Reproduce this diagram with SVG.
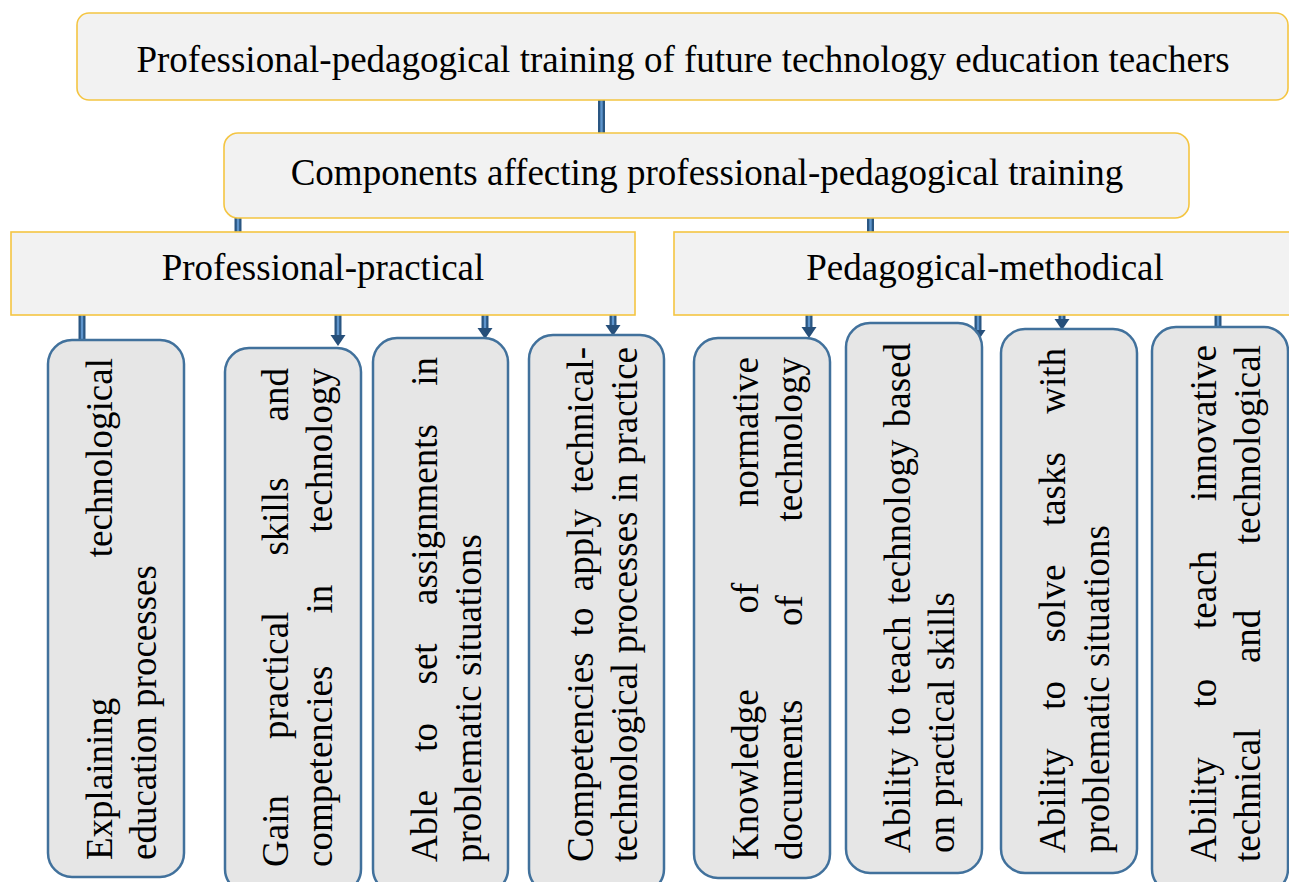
<svg xmlns="http://www.w3.org/2000/svg" width="1289" height="882" viewBox="0 0 1289 882">
<style>
.box{fill:#f2f2f2;stroke:#f4c542;stroke-width:1.6}
.vbox{fill:#e6e6e6;stroke:#41719c;stroke-width:2.5}
.co{stroke:#2a5682;stroke-width:7;fill:none}
.ci{stroke:#5f95cc;stroke-width:2.4;fill:none}
</style>
<defs>
<marker id="ah" viewBox="0 -8 11 16" refX="0" refY="0" markerWidth="11" markerHeight="16" markerUnits="userSpaceOnUse" orient="auto">
<path d="M0,-7.5 L11,0 L0,7.5 Z" fill="#264f7a"/>
</marker>
</defs>
<rect width="1289" height="882" fill="#fff"/>
<g id="connectors">
<path class="co" d="M601.5,100V133"/><path class="ci" d="M601.5,100V133"/>
<path class="co" d="M238,218V232"/><path class="ci" d="M238,218V232"/>
<path class="co" d="M870.5,218V232"/><path class="ci" d="M870.5,218V232"/>
<path class="co" d="M82,315V341"/><path class="ci" d="M82,315V341"/>
<path class="co" d="M338,315V335" marker-end="url(#ah)"/><path class="ci" d="M338,315V335"/>
<path class="co" d="M485,315V328" marker-end="url(#ah)"/><path class="ci" d="M485,315V328"/>
<path class="co" d="M613,315V325" marker-end="url(#ah)"/><path class="ci" d="M613,315V325"/>
<path class="co" d="M809,315V327" marker-end="url(#ah)"/><path class="ci" d="M809,315V327"/>
<path class="co" d="M978,315V330" marker-end="url(#ah)"/><path class="ci" d="M978,315V330"/>
<path class="co" d="M1062,315V319" marker-end="url(#ah)"/><path class="ci" d="M1062,315V319"/>
<path class="co" d="M1218,315V328"/><path class="ci" d="M1218,315V328"/>
</g>
<g font-family="Liberation Serif" font-size="37" fill="#000">
<g id="n-top">
<rect class="box" x="77" y="13" width="1211" height="87" rx="12"/>
<text x="683" y="72" text-anchor="middle">Professional-pedagogical training of future technology education teachers</text>
</g>
<g id="n-components">
<rect class="box" x="224" y="133" width="965" height="85" rx="14"/>
<text x="707" y="185" text-anchor="middle">Components affecting professional-pedagogical training</text>
</g>
<g id="n-practical">
<rect class="box" x="11" y="232" width="624" height="83"/>
<text x="323" y="280" text-anchor="middle">Professional-practical</text>
</g>
<g id="n-methodical">
<rect class="box" x="674" y="232" width="625" height="83"/>
<text x="985" y="280" text-anchor="middle">Pedagogical-methodical</text>
</g>
<g id="n1">
<rect class="vbox" x="48" y="340" width="136" height="537" rx="24"/>
<g transform="translate(112,860) rotate(-90)">
<text x="0" y="0">Explaining</text>
<text x="502" y="0" text-anchor="end">technological</text>
<text x="0" y="44">education processes</text>
</g>
</g>
<g id="n2">
<rect class="vbox" x="225" y="348" width="136" height="545" rx="24"/>
<g transform="translate(288,867) rotate(-90)">
<text x="0" y="0">Gain</text>
<text x="128" y="0">practical</text>
<text x="311.4" y="0">skills</text>
<text x="499" y="0" text-anchor="end">and</text>
<text x="0" y="44">competencies</text>
<text x="253.6" y="44">in</text>
<text x="499" y="44" text-anchor="end">technology</text>
</g>
</g>
<g id="n3">
<rect class="vbox" x="373" y="338" width="135" height="555" rx="24"/>
<g transform="translate(437,862) rotate(-90)">
<text x="0" y="0">Able</text>
<text x="110.3" y="0">to</text>
<text x="177.5" y="0">set</text>
<text x="257" y="0">assignments</text>
<text x="505" y="0" text-anchor="end">in</text>
<text x="0" y="44">problematic situations</text>
</g>
</g>
<g id="n4">
<rect class="vbox" x="529" y="335" width="135" height="558" rx="24"/>
<g transform="translate(593,862) rotate(-90)">
<text x="0" y="0">Competencies</text>
<text x="225.8" y="0">to</text>
<text x="270.8" y="0">apply</text>
<text x="515" y="0" text-anchor="end">technical-</text>
<text x="0" y="44">technological</text>
<text x="208.7" y="44">processes</text>
<text x="359.8" y="44">in</text>
<text x="515" y="44" text-anchor="end">practice</text>
</g>
</g>
<g id="n5">
<rect class="vbox" x="694" y="338" width="136" height="540" rx="24"/>
<g transform="translate(758,860) rotate(-90)">
<text x="0" y="0">Knowledge</text>
<text x="246.4" y="0">of</text>
<text x="503" y="0" text-anchor="end">normative</text>
<text x="0" y="44">documents</text>
<text x="234" y="44">of</text>
<text x="503" y="44" text-anchor="end">technology</text>
</g>
</g>
<g id="n6">
<rect class="vbox" x="846" y="323" width="136" height="550" rx="24"/>
<g transform="translate(910,853) rotate(-90)">
<text x="0" y="0">Ability</text>
<text x="117.3" y="0">to</text>
<text x="158.5" y="0">teach</text>
<text x="249" y="0">technology</text>
<text x="510" y="0" text-anchor="end">based</text>
<text x="0" y="44">on practical skills</text>
</g>
</g>
<g id="n7">
<rect class="vbox" x="1001" y="329" width="136" height="544" rx="24"/>
<g transform="translate(1065,853) rotate(-90)">
<text x="0" y="0">Ability</text>
<text x="143.3" y="0">to</text>
<text x="210.4" y="0">solve</text>
<text x="326.9" y="0">tasks</text>
<text x="505" y="0" text-anchor="end">with</text>
<text x="0" y="44">problematic situations</text>
</g>
</g>
<g id="n8">
<rect class="vbox" x="1152" y="327" width="136" height="566" rx="24"/>
<g transform="translate(1216,862) rotate(-90)">
<text x="0" y="0">Ability</text>
<text x="154.6" y="0">to</text>
<text x="233.1" y="0">teach</text>
<text x="517" y="0" text-anchor="end">innovative</text>
<text x="0" y="44">technical</text>
<text x="198.9" y="44">and</text>
<text x="517" y="44" text-anchor="end">technological</text>
</g>
</g>
</g>
</svg>
